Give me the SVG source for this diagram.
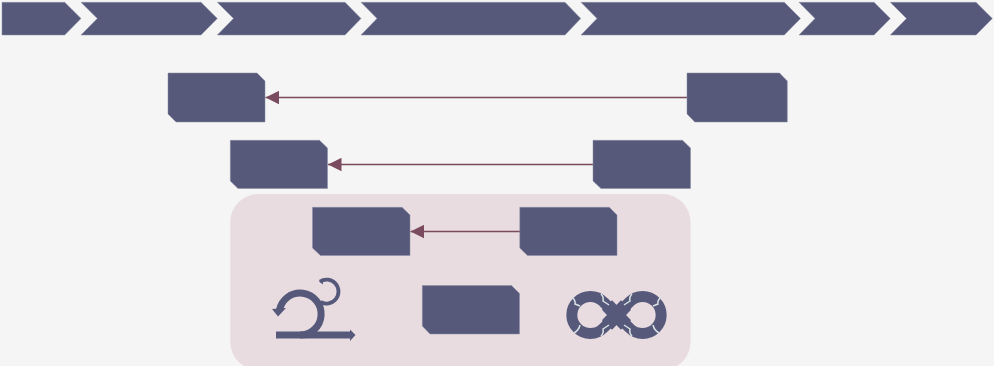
<svg xmlns="http://www.w3.org/2000/svg" width="994" height="366" viewBox="0 0 994 366">
<style>
.n{fill:#56597a;stroke:#8b8da6;stroke-width:.5}
.c{stroke:#7a4a5e;stroke-width:1.3;fill:none;marker-end:url(#a)}
.s{fill:none;stroke:#56597a}
.sep{fill:none;stroke:#d9e3e4;stroke-width:1.5}
</style>
<defs>
<marker id="a" markerUnits="userSpaceOnUse" markerWidth="14" markerHeight="14" refX="13.500" refY="7" orient="auto"><path d="M0 0.300L13.500 7L0 13.700Z" fill="#7a4a5e"/></marker>
</defs>
<rect width="994" height="366" fill="#f5f5f5"/>
<rect id="panel" x="230.300" y="194" width="460.200" height="176" rx="28" fill="#e8dce0"/>
<g id="phases">
<path id="phase1" class="n" d="M2 2.300H64.700L81 18.500L64.700 35H2Z"/>
<path id="phase2" class="n" d="M81 2.300H201L217.300 18.500L201 35H81L97.300 18.500Z"/>
<path id="phase3" class="n" d="M217.300 2.300H345L361 18.500L345 35H217.300L233.500 18.500Z"/>
<path id="phase4" class="n" d="M361 2.300H565L580.700 18.500L565 35H361L377 18.500Z"/>
<path id="phase5" class="n" d="M581 2.300H784.300L800.500 18.500L784.300 35H581L597 18.500Z"/>
<path id="phase6" class="n" d="M799 2.300H874L890.300 18.500L874 35H799L815 18.500Z"/>
<path id="phase7" class="n" d="M890.300 2.300H976L992.300 18.500L976 35H890.300L906.500 18.500Z"/>
</g>
<g id="connectors">
<path class="c" d="M687 97.500H265.500"/>
<path class="c" d="M593 164.500H328"/>
<path class="c" d="M520 231.500H410.500"/>
</g>
<g id="node-a"><path class="n" d="M168 73H257L265 81V122H176L168 114Z"/></g>
<g id="node-b"><path class="n" d="M687 73H779.500L787.300 81V122H694.800L687 114Z"/></g>
<g id="node-c"><path class="n" d="M230.300 140.300H319.500L327.500 148V188.500H238L230.300 181Z"/></g>
<g id="node-d"><path class="n" d="M593 140.300H682.500L690.500 148V188.500H601L593 181Z"/></g>
<g id="node-e"><path class="n" d="M312.500 207.300H402L410 215V255.500H320.500L312.500 248Z"/></g>
<g id="node-f"><path class="n" d="M519.800 207.300H609.300L617 215V255.500H527.500L519.800 248Z"/></g>
<g id="node-g"><path class="n" d="M422.300 285.500H511.500L519.500 293.500V334H430L422.300 326Z"/></g>
<g id="scrum-icon">
<path class="s" stroke-width="7" d="M276 335H351"/>
<path d="M350 329.500L355.500 335L350 341Z" fill="#56597a"/>
<path class="s" stroke-width="7" d="M279.500 310A21 21 0 1 1 300 335"/>
<path d="M272 309L286 308L278 316.500Z" fill="#56597a"/>
<path class="s" stroke-width="3.800" d="M320.500 302A12 12 0 1 0 320 281.500"/>
<path d="M319 281.500L323 278.500L323 284.500Z" fill="#56597a"/>
</g>
<g id="loop-icon">
<path class="s" stroke-width="11" d="M603.500 302A18.500 18.500 0 1 0 603.500 328L629.500 302A18.500 18.500 0 1 1 629.500 328Z"/>
<path class="s" stroke-width="14" d="M607 305L626 325M626 305L607 325"/>
<path class="sep" d="M572 297Q576 301 575 304L580 306"/>
<path class="sep" d="M601 294Q604 297 603 301L609 305"/>
<path class="sep" d="M632 294Q629 297 630 301L624 305"/>
<path class="sep" d="M661 297Q657 301 658 304L653 306"/>
<path class="sep" d="M580 325Q579 330 574 333"/>
<path class="sep" d="M601 336Q604 333 603 329L609 325"/>
<path class="sep" d="M632 336Q629 333 630 329L624 325"/>
<path class="sep" d="M653 325Q654 330 659 333"/>
</g>
</svg>
